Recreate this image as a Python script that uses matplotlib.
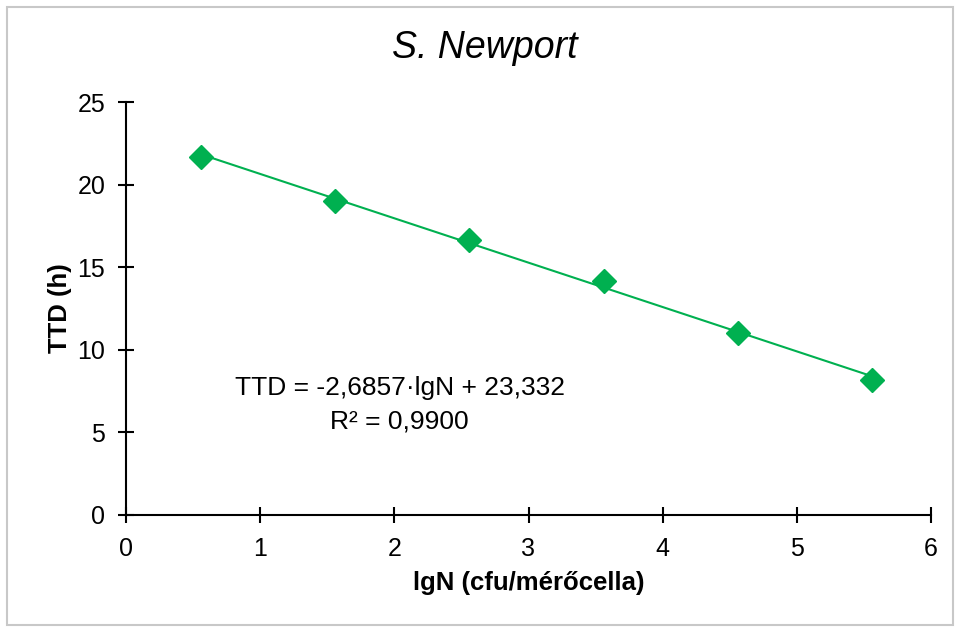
import numpy as np
import matplotlib.pyplot as plt
from matplotlib.patches import Rectangle

plt.rcParams['font.family'] = ['Liberation Sans', 'DejaVu Sans']

# Data
lgN = [0.56, 1.56, 2.56, 3.56, 4.56, 5.56]
ttd = [21.7, 19.0, 16.65, 14.15, 11.0, 8.15]
slope = -2.6857
intercept = 23.332
r2 = 0.9900

green = '#00B050'

fig = plt.figure(figsize=(9.55, 6.28), dpi=100)
ax = fig.add_axes([126 / 955, 113 / 628, 805 / 955, 413 / 628])

# outer frame
fig.patches.append(Rectangle((7 / 955, 3 / 628), 946 / 955, 618 / 628,
                             transform=fig.transFigure, fill=False,
                             edgecolor='#C8C8C8', linewidth=1.5))

# trendline over the data range
xs = np.array([min(lgN), max(lgN)])
ax.plot(xs, slope * xs + intercept, '-', color=green, linewidth=1.5, zorder=2)
ax.plot(lgN, ttd, 'D', color=green, markersize=12, linestyle='none', zorder=3)

ax.set_xlim(0, 6)
ax.set_ylim(0, 25)
ax.set_xticks(range(0, 7))
ax.set_yticks(range(0, 26, 5))
for s in ['top', 'right']:
    ax.spines[s].set_visible(False)
for s in ['left', 'bottom']:
    ax.spines[s].set_linewidth(1.5)
ax.tick_params(direction='inout', length=12, width=1.5, labelsize=18)
ax.tick_params(axis='x', pad=10)
ax.tick_params(axis='y', pad=9)

ax.set_xlabel('lgN (cfu/mérőcella)', fontsize=18.5, fontweight='bold')
ax.set_ylabel('TTD (h)', fontsize=18.5, fontweight='bold')
ax.xaxis.label.set_va('center')
ax.yaxis.label.set_va('center')
ax.xaxis.set_label_coords(0.5, -0.165)
ax.yaxis.set_label_coords(-0.082, 0.5)

fig.text(485 / 955, 1 - 48 / 628, 'S. Newport', fontsize=27, style='italic',
         ha='center', va='center')

eq = f'TTD = {slope:.4f}·lgN + {intercept:.3f}'.replace('.', ',')
r2_txt = f'R² = {r2:.4f}'.replace('.', ',')
ax.text(2.04, 7.69, eq, fontsize=19, ha='center', va='center')
ax.text(2.04, 5.69, r2_txt, fontsize=19, ha='center', va='center')

fig.savefig('out.png', dpi=100)
